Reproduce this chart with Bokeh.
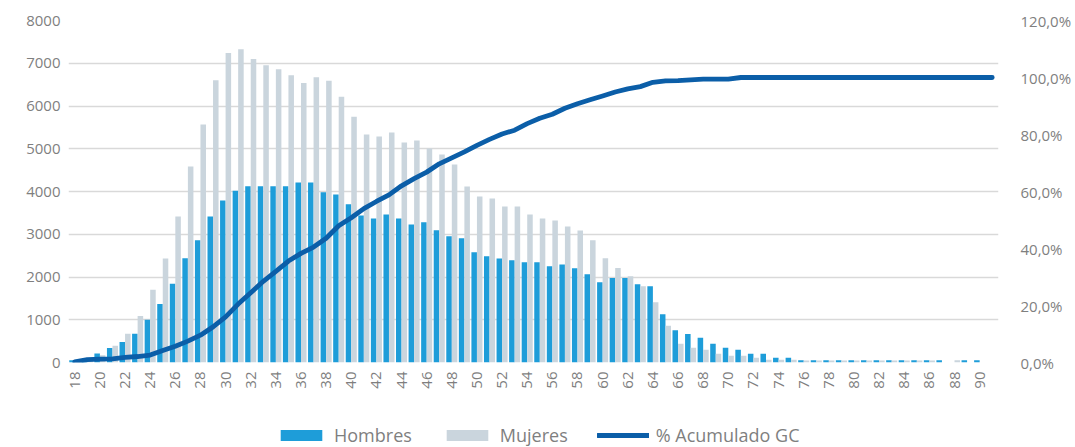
import math
from bokeh.plotting import figure
from bokeh.layouts import column
from bokeh.models import (Range1d, LinearAxis, FixedTicker, CustomJSTickFormatter,
                          Legend, LegendItem, ColumnDataSource)
from bokeh.transform import dodge
from bokeh.embed import file_html
from bokeh.resources import INLINE

# ---------------- data ----------------
ages = list(range(18, 92))
hombres = [50, 90, 210, 340, 480, 670, 1000, 1370, 1840, 2440,
           2860, 3415, 3790, 4020, 4120, 4120, 4120, 4120, 4210, 4210,
           3980, 3930, 3700, 3440, 3370, 3460, 3370, 3230, 3280, 3095,
           2955, 2905, 2578, 2485, 2435, 2390, 2343, 2343, 2250, 2295,
           2205, 2065, 1880, 1975, 1975, 1830, 1785, 1130, 757, 665,
           577, 437, 343, 297, 203, 203, 109, 109,
           55, 55, 55, 55, 55, 55, 55, 55, 55, 55, 55, 55,
           0, 55, 50, 0]
mujeres = [15, 60, 170, 390, 670, 1090, 1700, 2430, 3415, 4585,
           5570, 6600, 7240, 7330, 7100, 6955, 6860, 6720, 6540, 6670,
           6590, 6215, 5750, 5333, 5287, 5380, 5146, 5193, 5006, 4865,
           4632, 4117, 3883, 3836, 3650, 3650, 3462, 3368, 3322, 3181,
           3088, 2860, 2440, 2210, 2020, 1785, 1410, 858, 437, 345,
           297, 203, 156, 156, 109, 62, 62, 62,
           45, 45, 45, 45, 45, 45, 45, 45, 45, 45, 45, 0,
           55, 0, 0, 0]
acumulado = [0.2, 1.0, 1.2, 1.3, 1.8, 2.1, 2.6, 4.2, 5.7, 7.5,
             9.6, 12.5, 16.0, 20.5, 24.5, 28.5, 32.0, 35.6, 38.3, 40.5,
             43.6, 48.0, 50.8, 54.0, 56.5, 58.8, 62.0, 64.5, 66.8, 69.7,
             71.8, 73.9, 76.2, 78.3, 80.2, 81.5, 83.8, 85.7, 87.1, 89.2,
             90.8, 92.2, 93.5, 94.9, 96.0, 96.8, 98.3, 98.8, 98.9, 99.2,
             99.4, 99.4, 99.4] + [100.0] * 21
left_ticks = list(range(0, 8001, 1000))
right_ticks = list(range(0, 121, 20))
x_ticks = list(range(18, 91, 2))
series_names = ["Hombres", "Mujeres", "% Acumulado GC"]

FONT = "Open Sans"
GREY_TXT = "#7f7f7f"
C_H = "#1E9DD9"
C_M = "#CAD5DD"
C_L = "#0B5EA8"
LINE_W = 4.8

src = ColumnDataSource(dict(age=ages, hombres=hombres, mujeres=mujeres, pct=acumulado))

p = figure(width=1075, height=400, output_backend="svg", toolbar_location=None,
           x_range=Range1d(17.5, 91.5), y_range=Range1d(0, 8000),
           min_border_left=68, min_border_right=77, min_border_top=20, min_border_bottom=38)
p.outline_line_color = None
p.extra_y_ranges = {"pct": Range1d(0, 120)}

p.xgrid.visible = False
p.ygrid.grid_line_color = "#d9d9d9"
p.ygrid.grid_line_width = 1.4
p.ygrid.ticker = FixedTicker(ticks=left_ticks)

def style_axis(ax, size="15px"):
    ax.axis_line_color = None
    ax.major_tick_line_color = None
    ax.minor_tick_line_color = None
    ax.major_tick_out = 0
    ax.major_tick_in = 0
    ax.minor_tick_out = 0
    ax.major_label_text_font = FONT
    ax.major_label_text_font_size = size
    ax.major_label_text_color = GREY_TXT

yl = p.yaxis[0]
yl.ticker = FixedTicker(ticks=left_ticks)
yl.major_label_standoff = 8
style_axis(yl)

yr = LinearAxis(y_range_name="pct", ticker=FixedTicker(ticks=right_ticks),
                formatter=CustomJSTickFormatter(code="return tick.toFixed(1).replace('.', ',') + '%';"))
yr.major_label_standoff = 22
style_axis(yr)
p.add_layout(yr, "right")

xa = p.xaxis[0]
xa.ticker = FixedTicker(ticks=x_ticks)
xa.major_label_orientation = math.pi / 2
xa.major_label_standoff = 9
style_axis(xa)

p.vbar(x=dodge("age", -0.22), top="hombres", width=0.44, source=src,
       fill_color=C_H, line_color=None)
p.vbar(x=dodge("age", 0.22), top="mujeres", width=0.44, source=src,
       fill_color=C_M, line_color=None)
p.line("age", "pct", y_range_name="pct", source=src, line_color=C_L,
       line_width=LINE_W, line_join="round", line_cap="round")

# ---------------- legend strip (hidden copies of the series supply the swatches) ----------------
lg = figure(width=1075, height=47, output_backend="svg", toolbar_location=None,
            x_range=Range1d(17.5, 91.5), y_range=Range1d(0, 8000),
            min_border_left=0, min_border_right=0, min_border_top=0, min_border_bottom=0)
lg.axis.visible = False
lg.grid.visible = False
lg.outline_line_color = None
g1 = lg.vbar(x="age", top="hombres", width=0.44, source=src, fill_color=C_H, line_color=None)
g2 = lg.vbar(x="age", top="mujeres", width=0.44, source=src, fill_color=C_M, line_color=None)
g3 = lg.line(x="age", y="pct", source=src, line_color=C_L, line_width=LINE_W, line_cap="round")
for g in (g1, g2, g3):
    g.visible = False

legend = Legend(items=[LegendItem(label=series_names[0], renderers=[g1]),
                       LegendItem(label=series_names[1], renderers=[g2]),
                       LegendItem(label=series_names[2], renderers=[g3])],
                location=(207, 0), orientation="horizontal",
                glyph_width=52, glyph_height=14, label_height=14,
                label_standoff=7, spacing=29, padding=0, margin=0,
                border_line_color=None, background_fill_alpha=0,
                inactive_fill_alpha=0,
                label_text_font=FONT, label_text_font_size="18px",
                label_text_color=GREY_TXT)
lg.add_layout(legend)

layout = column(p, lg, spacing=0)
open("out.html", "w").write(file_html(layout, INLINE))
